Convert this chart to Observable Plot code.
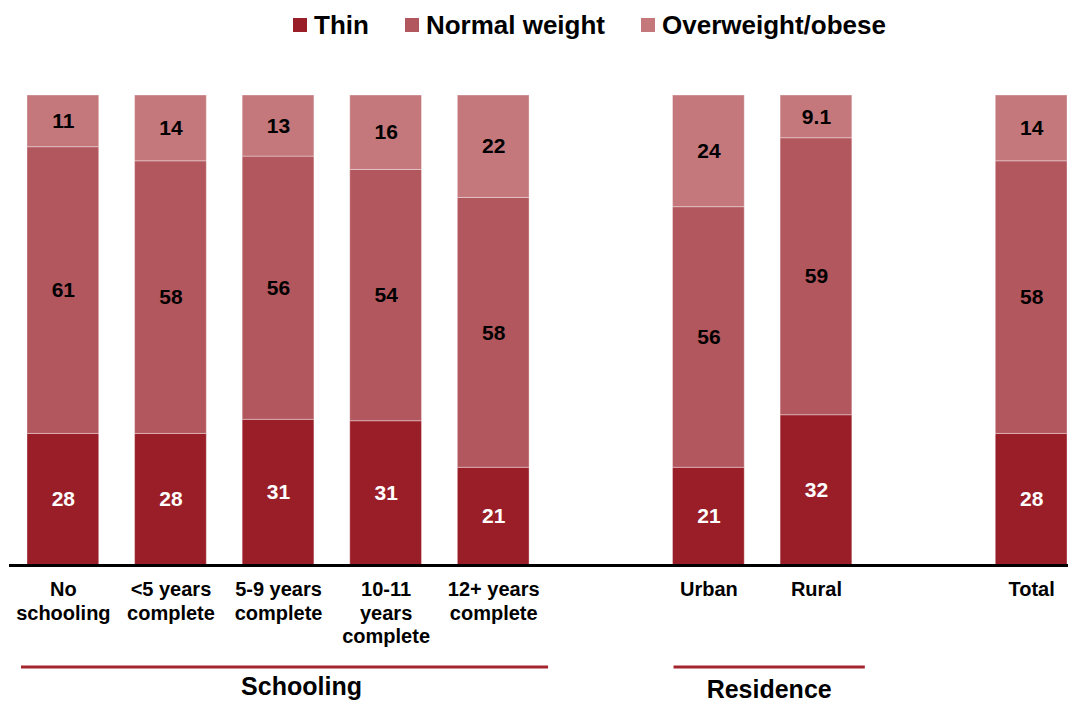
<!DOCTYPE html>
<html><head><meta charset="utf-8">
<script src="https://cdn.jsdelivr.net/npm/d3@7"></script>
<script src="https://cdn.jsdelivr.net/npm/@observablehq/plot@0.6"></script>
<style>
body{margin:0;background:#fff;font-family:"Liberation Sans",Arial,sans-serif;}
#legend{height:50px;display:flex;justify-content:flex-start;align-items:center;padding-left:293px;font-weight:bold;font-size:26px;color:#000;}
#legend .item{display:flex;align-items:center;margin-right:36px;}
#legend .sw{display:inline-block;width:14px;height:14px;margin-right:7px;}
#chart svg{overflow:visible;display:block;}
</style></head><body>
<div id="legend"></div>
<div id="chart"></div>
<script>
const categories = ["No schooling", "<5 years complete", "5-9 years complete", "10-11 years complete", "12+ years complete", "Urban", "Rural", "Total"];
const tickLabels = ["No\nschooling", "<5 years\ncomplete", "5-9 years\ncomplete", "10-11\nyears\ncomplete", "12+ years\ncomplete", "Urban", "Rural", "Total"];
const gapsAfter = ["12+ years complete", "Rural"];
const thin = [28, 28, 31, 31, 21, 21, 32, 28];
const normalWeight = [61, 58, 56, 54, 58, 56, 59, 58];
const overweight = [11, 14, 13, 16, 22, 24, 9.1, 14];
const seriesNames = ["Thin", "Normal weight", "Overweight/obese"];
const seriesColors = ["#9a1e28", "#b3575e", "#c4787c"];
const groupNames = ["Schooling", "Residence"];
const groupFrom = ["No schooling", "Urban"];
const groupTo = ["12+ years complete", "Rural"];

// legend
const legend = document.getElementById("legend");
seriesNames.forEach((n, i) => {
  const it = document.createElement("span"); it.className = "item";
  const sw = document.createElement("span"); sw.className = "sw"; sw.style.background = seriesColors[i];
  it.appendChild(sw); it.appendChild(document.createTextNode(n));
  legend.appendChild(it);
});

// x domain with gap slots
const domain = [];
categories.forEach(c => { domain.push(c); if (gapsAfter.includes(c)) domain.push("gap-" + c); });

const seriesValues = [thin, normalWeight, overweight];
const data = [];
categories.forEach((c, i) => {
  seriesNames.forEach((s, j) => data.push({cat: c, series: s, value: seriesValues[j][i]}));
});

const plot = Plot.plot({
  width: 1068,
  height: 652,
  marginTop: 45,
  marginBottom: 137,
  marginLeft: 9,
  marginRight: 0,
  style: {fontFamily: "'Liberation Sans', Arial, sans-serif", background: "#fff"},
  x: {domain, range: [27, 1067], paddingInner: 1/3, paddingOuter: 0, round: false, axis: null},
  y: {domain: [0, 1], axis: null},
  color: {domain: seriesNames, range: seriesColors},
  marks: [
    Plot.barY(data, {x: "cat", y: "value", z: "series", fill: "series", offset: "normalize", stroke: "#ffffff", strokeOpacity: 0.35, strokeWidth: 1}),
    Plot.text(data, Plot.stackY({x: "cat", y: "value", z: "series", offset: "normalize", text: d => d.series === "Thin" ? String(d.value) : "", fill: "white", fontSize: 21, fontWeight: "bold"})),
    Plot.text(data, Plot.stackY({x: "cat", y: "value", z: "series", offset: "normalize", text: d => d.series !== "Thin" ? String(d.value) : "", fill: "black", fontSize: 21, fontWeight: "bold"})),
    Plot.ruleY([0], {stroke: "black", strokeWidth: 3}),
    Plot.text(categories, {x: d => d, y: 0, text: (d, i) => tickLabels[i], lineAnchor: "top", dy: 14, fontSize: 20, fontWeight: "bold", lineHeight: 1.17, fill: "black"})
  ]
});
document.getElementById("chart").appendChild(plot);

// group underlines and labels, positioned from the x scale
const xs = plot.scale("x");
const bw = xs.bandwidth;
const svg = d3.select(plot);
const linePad = [[-6, 19], [1, 13]];
const textShift = [17, 0];
const lineY = 617;
const textY = [645, 648];
groupNames.forEach((g, i) => {
  const x1 = xs.apply(groupFrom[i]) + linePad[i][0];
  const x2 = xs.apply(groupTo[i]) + bw + linePad[i][1];
  svg.append("line").attr("x1", x1).attr("x2", x2).attr("y1", lineY).attr("y2", lineY)
    .attr("stroke", "#a3252d").attr("stroke-width", 3);
  svg.append("text").attr("x", (x1 + x2) / 2 + textShift[i]).attr("y", textY[i])
    .attr("text-anchor", "middle").attr("font-size", 25).attr("font-weight", "bold")
    .attr("fill", "black").text(g);
});
</script>
</body></html>
